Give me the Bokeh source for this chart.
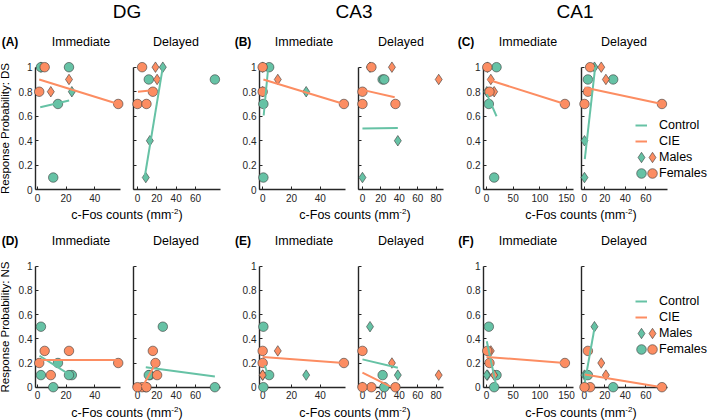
from bokeh.plotting import figure
from bokeh.layouts import row, column
from bokeh.models import Div, Range1d, FixedTicker, Legend, LegendItem
from bokeh.embed import file_html
from bokeh.resources import INLINE

# ---------------- data ----------------
REGIONS = ["DG", "CA3", "CA1"]
TIMINGS = ["Immediate", "Delayed"]
MEASURES = ["DS", "NS"]
PANEL_LETTERS = [["(A)", "(B)", "(C)"], ["(D)", "(E)", "(F)"]]
Y_LABELS = ["Response Probability: DS", "Response Probability: NS"]
X_LABEL = "c-Fos counts (mm<sup style='font-size:8px'>-2</sup>)"
LEGEND_LABELS = ["Control", "CIE", "Males", "Females"]
Y_TICKS = [0, 0.2, 0.4, 0.6, 0.8, 1]
Y_TICK_LABELS = ["0", "0.2", "0.4", "0.6", "0.8", "1"]

# group: C = Control, E = CIE ; sex: M = male, F = female
DG_IMM_X = [2.4, 24.0, 2.4, 22.0, 14.3, 11.0, 22.0, 9.3, 5.0, 1.2, 56.4]
DG_IMM_GROUP = ["C", "C", "C", "C", "C", "C", "E", "E", "E", "E", "E"]
DG_IMM_SEX = ["M", "M", "F", "F", "F", "F", "M", "M", "F", "F", "F"]
DG_IMM_DS = [1.0, 0.8, 1.0, 1.0, 0.7, 0.1, 0.9, 0.8, 1.0, 0.8, 0.7]
DG_IMM_NS = [0.1, 0.1, 0.5, 0.1, 0.2, 0.0, 0.3, 0.1, 0.3, 0.2, 0.2]

DG_DEL_X = [26.2, 12.8, 8.6, 11.7, 80.0, 18.6, 20.3, 4.8, 15.9, 0.0, 9.3]
DG_DEL_GROUP = ["C", "C", "C", "C", "C", "E", "E", "E", "E", "E", "E"]
DG_DEL_SEX = ["M", "M", "M", "F", "F", "M", "M", "F", "F", "F", "F"]
DG_DEL_DS = [1.0, 0.4, 0.1, 0.9, 0.9, 1.0, 0.9, 1.0, 0.8, 0.7, 0.7]
DG_DEL_NS = [0.5, 0.1, 0.0, 0.1, 0.0, 0.2, 0.1, 0.0, 0.3, 0.0, 0.0]

CA3_IMM_X = [0.0, 30.2, 4.5, 0.5, 0.5, 0.0, 10.5, 0.0, 0.0, 56.4]
CA3_IMM_GROUP = ["C", "C", "C", "C", "C", "E", "E", "E", "E", "E"]
CA3_IMM_SEX = ["M", "M", "F", "F", "F", "M", "M", "F", "F", "F"]
CA3_IMM_DS = [1.0, 0.8, 1.0, 0.7, 0.1, 0.8, 0.9, 0.8, 1.0, 0.7]
CA3_IMM_NS = [0.1, 0.1, 0.1, 0.5, 0.0, 0.1, 0.3, 0.2, 0.3, 0.2]

CA3_DEL_X = [8.2, 38.4, 0.0, 21.9, 23.7, 32.0, 82.8, 9.7, 0.0, 0.0, 35.8]
CA3_DEL_GROUP = ["C", "C", "C", "C", "C", "E", "E", "E", "E", "E", "E"]
CA3_DEL_SEX = ["M", "M", "M", "F", "F", "M", "M", "F", "F", "F", "F"]
CA3_DEL_DS = [1.0, 0.4, 0.1, 0.9, 0.9, 1.0, 0.9, 1.0, 0.8, 0.7, 0.7]
CA3_DEL_NS = [0.5, 0.1, 0.0, 0.1, 0.0, 0.2, 0.1, 0.0, 0.3, 0.0, 0.0]

CA1_IMM_X = [1.9, 0.6, 18.8, 4.4, 14.4, 8.1, 14.4, 1.5, 5.6, 146.9]
CA1_IMM_GROUP = ["C", "C", "C", "C", "C", "E", "E", "E", "E", "E"]
CA1_IMM_SEX = ["M", "M", "F", "F", "F", "M", "M", "F", "F", "F"]
CA1_IMM_DS = [1.0, 0.8, 1.0, 0.7, 0.1, 0.9, 0.8, 1.0, 0.8, 0.7]
CA1_IMM_NS = [0.1, 0.1, 0.1, 0.5, 0.0, 0.3, 0.1, 0.3, 0.2, 0.2]

CA1_DEL_X = [10.0, 0.3, 0.3, 3.6, 28.2, 16.6, 21.1, 5.8, 3.6, 0.3, 75.6]
CA1_DEL_GROUP = ["C", "C", "C", "C", "C", "E", "E", "E", "E", "E", "E"]
CA1_DEL_SEX = ["M", "M", "M", "F", "F", "M", "M", "F", "F", "F", "F"]
CA1_DEL_DS = [1.0, 0.4, 0.1, 0.9, 0.9, 1.0, 0.9, 1.0, 0.8, 0.7, 0.7]
CA1_DEL_NS = [0.5, 0.1, 0.0, 0.1, 0.0, 0.2, 0.1, 0.0, 0.3, 0.0, 0.0]

# regression lines: (group, x start, x end, y start, y end)
FIT_DG_IMM_DS = [("C", 1.9, 22.1, 0.674, 0.728), ("E", 1.2, 56.4, 0.90, 0.70)]
FIT_DG_DEL_DS = [("C", 7.2, 26.2, 0.09, 1.0), ("E", 0.5, 13.0, 0.80, 0.81)]
FIT_DG_IMM_NS = [("C", 1.4, 23.8, 0.26, 0.094), ("E", 1.2, 56.4, 0.225, 0.225)]
FIT_DG_DEL_NS = [("C", 8.6, 80.0, 0.165, 0.088), ("E", 4.8, 17.6, 0.0, 0.18)]
FIT_CA3_IMM_DS = [("C", 0.7, 3.6, 0.606, 0.967), ("E", 0.5, 56.4, 0.90, 0.70)]
FIT_CA3_DEL_DS = [("C", 0.0, 38.4, 0.50, 0.505), ("E", 0.0, 35.0, 0.815, 0.755)]
FIT_CA3_IMM_NS = [("C", 1.4, 3.6, 0.18, 0.105), ("E", 0.0, 56.4, 0.25, 0.20)]
FIT_CA3_DEL_NS = [("C", 0.0, 38.4, 0.23, 0.16), ("E", 0.0, 30.5, 0.12, 0.005)]
FIT_CA1_IMM_DS = [("C", 0.6, 18.8, 0.78, 0.60), ("E", 1.9, 146.9, 0.90, 0.70)]
FIT_CA1_DEL_DS = [("C", 0.6, 10.7, 0.25, 1.0), ("E", 0.3, 75.6, 0.835, 0.70)]
FIT_CA1_IMM_NS = [("C", 0.6, 18.8, 0.38, 0.0), ("E", 0.0, 146.9, 0.25, 0.20)]
FIT_CA1_DEL_NS = [("C", 0.6, 10.7, 0.04, 0.52), ("E", 0.6, 75.6, 0.105, 0.0)]

# axis limits and ticks of the c-Fos axes
DG_IMM_XLIM, DG_IMM_XTICKS = (-1.4, 58.0), [0, 20, 40]
DG_DEL_XLIM, DG_DEL_XTICKS = (-4.1, 85.8), [0, 20, 40, 60]
CA3_IMM_XLIM, CA3_IMM_XTICKS = (-2.2, 57.5), [0, 20, 40]
CA3_DEL_XLIM, CA3_DEL_XTICKS = (-4.3, 88.0), [0, 20, 40, 60, 80]
CA1_IMM_XLIM, CA1_IMM_XTICKS = (-5.6, 163.0), [0, 50, 100, 150]
CA1_DEL_XLIM, CA1_DEL_XTICKS = (-2.6, 81.0), [0, 20, 40, 60]

PANELS = {
    ("DG", "Immediate"): (DG_IMM_X, DG_IMM_GROUP, DG_IMM_SEX, {"DS": DG_IMM_DS, "NS": DG_IMM_NS},
                          {"DS": FIT_DG_IMM_DS, "NS": FIT_DG_IMM_NS}, DG_IMM_XLIM, DG_IMM_XTICKS),
    ("DG", "Delayed"): (DG_DEL_X, DG_DEL_GROUP, DG_DEL_SEX, {"DS": DG_DEL_DS, "NS": DG_DEL_NS},
                        {"DS": FIT_DG_DEL_DS, "NS": FIT_DG_DEL_NS}, DG_DEL_XLIM, DG_DEL_XTICKS),
    ("CA3", "Immediate"): (CA3_IMM_X, CA3_IMM_GROUP, CA3_IMM_SEX, {"DS": CA3_IMM_DS, "NS": CA3_IMM_NS},
                           {"DS": FIT_CA3_IMM_DS, "NS": FIT_CA3_IMM_NS}, CA3_IMM_XLIM, CA3_IMM_XTICKS),
    ("CA3", "Delayed"): (CA3_DEL_X, CA3_DEL_GROUP, CA3_DEL_SEX, {"DS": CA3_DEL_DS, "NS": CA3_DEL_NS},
                         {"DS": FIT_CA3_DEL_DS, "NS": FIT_CA3_DEL_NS}, CA3_DEL_XLIM, CA3_DEL_XTICKS),
    ("CA1", "Immediate"): (CA1_IMM_X, CA1_IMM_GROUP, CA1_IMM_SEX, {"DS": CA1_IMM_DS, "NS": CA1_IMM_NS},
                           {"DS": FIT_CA1_IMM_DS, "NS": FIT_CA1_IMM_NS}, CA1_IMM_XLIM, CA1_IMM_XTICKS),
    ("CA1", "Delayed"): (CA1_DEL_X, CA1_DEL_GROUP, CA1_DEL_SEX, {"DS": CA1_DEL_DS, "NS": CA1_DEL_NS},
                         {"DS": FIT_CA1_DEL_DS, "NS": FIT_CA1_DEL_NS}, CA1_DEL_XLIM, CA1_DEL_XTICKS),
}

# ---------------- styles / layout (pixels) ----------------
COLORS = {"C": "#66c2a5", "E": "#fc8d62"}
FONT = "Liberation Sans"
AXIS_COLOR = "#262626"
W, H = 709, 420
# per column: fig_left, fig_right, axes box left, axes box right
COLS = [(0, 126, 35, 120), (126, 230, 133, 220),
        (230, 351, 259, 345), (351, 455, 358, 443),
        (455, 577, 483, 573), (577, 709, 581, 667)]
# per row: fig_top, fig_bottom, pixel of y=1, pixel of y=0
ROWS = [(56, 206, 66.7, 189.3), (257, 405, 265.7, 386.7)]
# legend anchors (pixels): line swatch left, marker centre, marker step, text left
LEG_LINE_X, LEG_MARK_CX, LEG_MARK_DX, LEG_TEXT_X = 635, 641, 11, 659
LEG_BOX = {"M": 26, "F": 24}
LEG_ROW_Y = [[125, 141, 157, 173], [301, 317, 333, 349]]


def text_div(height, items):
    spans = ""
    for (t, x, y, fs, fw) in items:
        spans += (f'<span style="position:absolute;left:{x}px;top:{y}px;'
                  f'transform:translate(-50%,-50%);white-space:nowrap;'
                  f'font-size:{fs}px;font-weight:{fw};">{t}</span>')
    html = (f'<div style="position:relative;width:{W}px;height:{height}px;'
            f'font-family:\'{FONT}\', Arial, sans-serif;color:#000;">{spans}</div>')
    return Div(text=html, width=W, height=height, margin=0)


def legend_common(gw, gh):
    return dict(orientation="vertical", glyph_width=gw, glyph_height=gh, label_height=gh,
                spacing=0, padding=0, margin=0, border_line_color=None,
                background_fill_alpha=0, label_text_font=FONT,
                label_text_font_size="12.5px", label_text_color="#000000")


def make_panel(ri, mi, ti, ci):
    region, timing, measure = REGIONS[ri], TIMINGS[ti], MEASURES[mi]
    xs, groups, sexes, ys_by, fits_by, xlim, xticks = PANELS[(region, timing)]
    ys, fits = ys_by[measure], fits_by[measure]
    fl, fr, bl, br = COLS[ci]
    ft, fb, y1p, y0p = ROWS[mi]
    sx = (br - bl) / (xlim[1] - xlim[0])
    x0 = xlim[0] - (bl - fl) / sx
    x1 = xlim[1] + (fr - br) / sx
    sy = (y0p - y1p)
    y0 = 0 - (fb - y0p) / sy
    y1 = 1 + (y1p - ft) / sy
    p = figure(width=fr - fl, height=fb - ft, x_range=Range1d(x0, x1), y_range=Range1d(y0, y1),
               output_backend="svg", toolbar_location=None,
               min_border_left=0, min_border_right=0, min_border_top=0, min_border_bottom=0)
    p.outline_line_color = None
    p.grid.visible = False
    p.background_fill_color = "white"
    p.border_fill_color = "white"

    xa, ya = p.xaxis[0], p.yaxis[0]
    for ax in (xa, ya):
        ax.level = "underlay"
        ax.axis_line_color = AXIS_COLOR
        ax.axis_line_width = 1.4
        ax.major_tick_line_color = AXIS_COLOR
        ax.major_tick_in = 3
        ax.major_tick_out = 0
        ax.minor_tick_in = 0
        ax.minor_tick_out = 0
        ax.major_label_text_font = FONT
        ax.major_label_text_font_size = "10px"
        ax.major_label_text_color = AXIS_COLOR
    xa.fixed_location = 0
    xa.bounds = xlim
    xa.ticker = FixedTicker(ticks=xticks)
    xa.major_label_standoff = 4
    ya.fixed_location = xlim[0]
    ya.bounds = (0, 1)
    ya.ticker = FixedTicker(ticks=Y_TICKS)
    ya.major_label_standoff = 3
    if ti == 0:
        ya.major_label_overrides = {t: l for t, l in zip(Y_TICKS, Y_TICK_LABELS)}
    else:
        ya.major_label_overrides = {t: "" for t in Y_TICKS}
    if ti == 0 and ri == 0:
        ya.axis_label = Y_LABELS[mi]
        ya.axis_label_text_font = FONT
        ya.axis_label_text_font_size = "11.5px"
        ya.axis_label_text_font_style = "normal"
        ya.axis_label_text_color = "#000000"
        ya.axis_label_standoff = 5

    male_marker = "circle" if (region == "DG" and measure == "NS") else "diamond"
    rend = {}
    for g in ["C", "E"]:
        for s in ["M", "F"]:
            px = [x for x, gg, ss in zip(xs, groups, sexes) if gg == g and ss == s]
            py = [y for y, gg, ss in zip(ys, groups, sexes) if gg == g and ss == s]
            marker = male_marker if s == "M" else "circle"
            size = 10.5 if marker == "diamond" else 9.5
            rend[(g, s)] = p.scatter(px, py, marker=marker, size=size, fill_color=COLORS[g],
                                     line_color="#3a3a3a", line_width=0.6)
    lines = {}
    for (g, xa0, xa1, ya0, ya1) in fits:
        lines[g] = p.line([xa0, xa1], [ya0, ya1], line_color=COLORS[g], line_width=2)

    if ri == 2 and ti == 1:
        ry = LEG_ROW_Y[mi]
        leg_lines = Legend(items=[LegendItem(label=LEGEND_LABELS[0], renderers=[lines["C"]]),
                                  LegendItem(label=LEGEND_LABELS[1], renderers=[lines["E"]])],
                           location=(LEG_LINE_X - fl, fb - (ry[1] + 8)),
                           label_standoff=int(LEG_TEXT_X - (LEG_LINE_X + 12)),
                           **legend_common(12, 16))
        p.add_layout(leg_lines)
        for k, s in enumerate(["M", "F"]):
            cy = ry[2 + k]
            box = LEG_BOX[s]
            half = box / 2
            for j, g in enumerate(["C", "E"]):
                cx = LEG_MARK_CX + j * LEG_MARK_DX
                bx = cx - half
                label = LEGEND_LABELS[2 + k] if g == "C" else " "
                leg = Legend(items=[LegendItem(label=label, renderers=[rend[(g, s)]])],
                             location=(bx - fl, fb - (cy + half)),
                             label_standoff=int(max(0, round(LEG_TEXT_X - (bx + box)))),
                             **legend_common(box, box))
                p.add_layout(leg)
    return p


fig_rows = []
for mi in range(2):
    figs = []
    ci = 0
    for ri in range(3):
        for ti in range(2):
            figs.append(make_panel(ri, mi, ti, ci))
            ci += 1
    fig_rows.append(row(*figs, spacing=0))

REGION_X = [127, 354, 575]
LETTER_X = [10, 243, 466]
TIMING_X = [[81, 176], [304, 401], [528, 624]]
XLABEL_X = [127, 355, 581]

title_div = text_div(30, [(REGIONS[i], REGION_X[i], 12, 19, "normal") for i in range(3)])


def head_div(mi, height, cy):
    items = []
    for i in range(3):
        items.append((PANEL_LETTERS[mi][i], LETTER_X[i], cy, 12, "bold"))
        for t in range(2):
            items.append((TIMINGS[t], TIMING_X[i][t], cy, 12.5, "normal"))
    return text_div(height, items)


head1 = head_div(0, 26, 13)
xlab1 = text_div(21, [(X_LABEL, XLABEL_X[i], 9, 12.5, "normal") for i in range(3)])
head2 = head_div(1, 30, 15)
xlab2 = text_div(15, [(X_LABEL, XLABEL_X[i], 8, 12.5, "normal") for i in range(3)])

page = column(title_div, head1, fig_rows[0], xlab1, head2, fig_rows[1], xlab2, spacing=0)

with open("out.html", "w") as f:
    f.write(file_html(page, INLINE))
